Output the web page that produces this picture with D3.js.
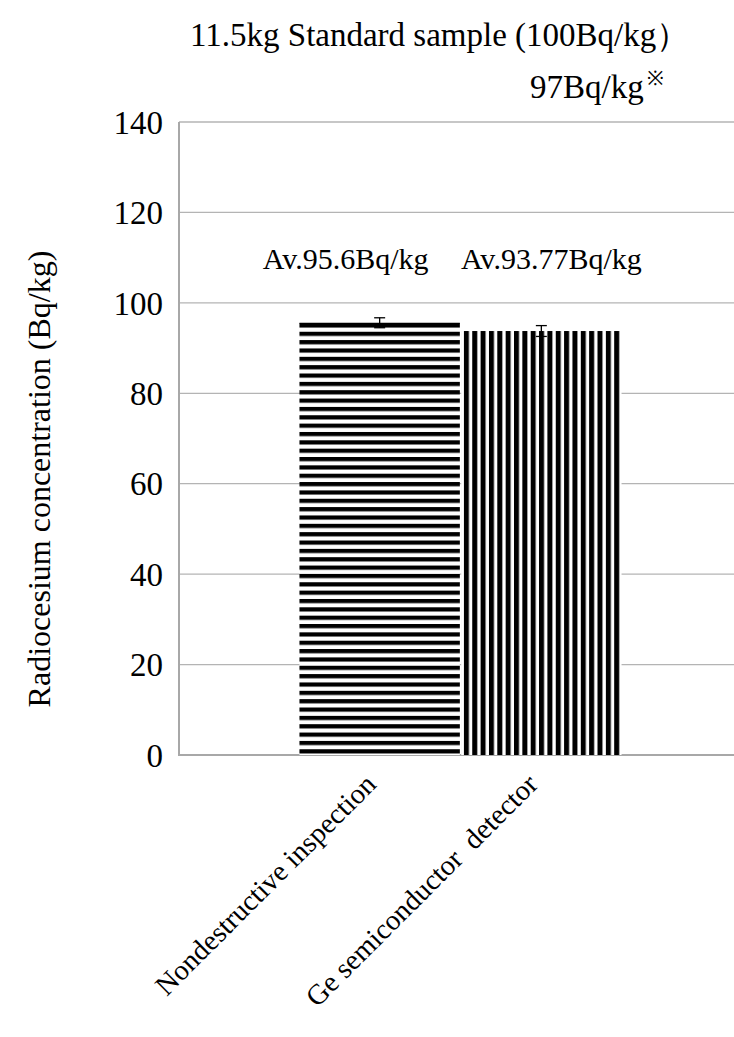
<!DOCTYPE html>
<html>
<head>
<meta charset="utf-8">
<script src="https://cdn.jsdelivr.net/npm/d3@7"></script>
<style>
  html, body { margin: 0; padding: 0; background: #fff; }
  svg text { font-family: "Liberation Serif", "DejaVu Serif", serif; fill: #000; }
</style>
</head>
<body>
<svg id="chart" width="734" height="1037"></svg>
<script>
// data
const categories = ["Nondestructive inspection", "Ge semiconductor  detector"];
const values = [95.6, 93.77];
const errors = [1.1, 1.2];
const avLabels = ["Av.95.6Bq/kg", "Av.93.77Bq/kg"];
const patterns = ["hstripe", "vstripe"];
const yTicks = [0, 20, 40, 60, 80, 100, 120, 140];

const width = 734, height = 1037;
const margin = {top: 122, right: -8, bottom: 282, left: 179};
const plotW = width - margin.left - margin.right;
const plotH = height - margin.top - margin.bottom;

const svg = d3.select("#chart");

// stripe fills
const defs = svg.append("defs");
const hp = defs.append("pattern")
    .attr("id", "hstripe")
    .attr("patternUnits", "userSpaceOnUse")
    .attr("width", 10).attr("height", 8.35)
    .attr("y", 1);
hp.append("rect").attr("width", 10).attr("height", 8.35).attr("fill", "#fff");
hp.append("rect").attr("y", 0).attr("width", 10).attr("height", 4.2).attr("fill", "#000");

const vp = defs.append("pattern")
    .attr("id", "vstripe")
    .attr("patternUnits", "userSpaceOnUse")
    .attr("width", 8.35).attr("height", 10)
    .attr("x", 1);
vp.append("rect").attr("width", 8.35).attr("height", 10).attr("fill", "#fff");
vp.append("rect").attr("x", 0).attr("width", 5).attr("height", 10).attr("fill", "#000");

const g = svg.append("g").attr("transform", `translate(${margin.left},${margin.top})`);

const y = d3.scaleLinear().domain([0, 140]).range([plotH, 0]);
const x = d3.scaleBand()
    .domain(categories)
    .range([0, plotW])
    .paddingInner(0.008)
    .paddingOuter(0.745);

// gridlines
g.append("g")
    .selectAll("line")
    .data(yTicks.filter(d => d > 0))
    .join("line")
    .attr("x1", 0).attr("x2", plotW)
    .attr("y1", d => y(d)).attr("y2", d => y(d))
    .attr("stroke", "#b4b4b4").attr("stroke-width", 1.3);

// y axis
const yAxis = g.append("g")
    .call(d3.axisLeft(y).tickValues(yTicks).tickSize(0).tickPadding(16));
yAxis.select(".domain").remove();
yAxis.selectAll("text")
    .style("font-family", "'Liberation Serif', serif")
    .style("font-size", "33px")
    .attr("dy", "0.34em");

// axis lines
g.append("line")
    .attr("x1", 0).attr("x2", 0).attr("y1", 0).attr("y2", plotH)
    .attr("stroke", "#a8a8a8").attr("stroke-width", 2);
g.append("line")
    .attr("x1", -1).attr("x2", plotW).attr("y1", plotH).attr("y2", plotH)
    .attr("stroke", "#a8a8a8").attr("stroke-width", 2);

// bars
g.selectAll("rect.bar")
    .data(categories)
    .join("rect")
    .attr("class", "bar")
    .attr("x", d => x(d))
    .attr("width", x.bandwidth())
    .attr("y", (d, i) => y(values[i]))
    .attr("height", (d, i) => plotH - y(values[i]))
    .attr("fill", (d, i) => `url(#${patterns[i]})`);

// thin top edge on the horizontal-striped bar
g.append("line")
    .attr("x1", x(categories[0])).attr("x2", x(categories[0]) + x.bandwidth())
    .attr("y1", y(values[0]) + 0.6).attr("y2", y(values[0]) + 0.6)
    .attr("stroke", "#000").attr("stroke-width", 1.2);

// error bars
const eb = g.selectAll("g.err")
    .data(categories)
    .join("g")
    .attr("class", "err")
    .attr("transform", d => `translate(${x(d) + x.bandwidth() / 2},0)`);
eb.append("line")
    .attr("y1", (d, i) => y(values[i] + errors[i]))
    .attr("y2", (d, i) => y(values[i] - errors[i]))
    .attr("stroke", "#000").attr("stroke-width", 1.3);
eb.append("line")
    .attr("x1", -5.5).attr("x2", 5.5)
    .attr("y1", (d, i) => y(values[i] + errors[i]))
    .attr("y2", (d, i) => y(values[i] + errors[i]))
    .attr("stroke", "#000").attr("stroke-width", 1.3);
eb.append("line")
    .attr("x1", -5.5).attr("x2", 5.5)
    .attr("y1", (d, i) => y(values[i] - errors[i]))
    .attr("y2", (d, i) => y(values[i] - errors[i]))
    .attr("stroke", "#000").attr("stroke-width", 1.3);

// average labels
g.selectAll("text.av")
    .data(categories)
    .join("text")
    .attr("class", "av")
    .attr("x", (d, i) => x(d) + x.bandwidth() / 2 + (i === 0 ? -34 : 10))
    .attr("y", y(107.4))
    .attr("text-anchor", "middle")
    .style("font-size", "30px")
    .text((d, i) => avLabels[i]);

// x category labels
g.selectAll("text.xl")
    .data(categories)
    .join("text")
    .attr("class", "xl")
    .attr("transform", d => `translate(${x(d) + x.bandwidth() / 2 - 2},${plotH + 31}) rotate(-45)`)
    .attr("text-anchor", "end")
    .style("font-size", "28.5px")
    .style("white-space", "pre")
    .text(d => d);

// y title
svg.append("text")
    .attr("transform", `translate(50,479) rotate(-90)`)
    .attr("text-anchor", "middle")
    .style("font-size", "32px")
    .text("Radiocesium concentration (Bq/kg)");

// title lines
svg.append("text")
    .attr("x", 190).attr("y", 46)
    .style("font-size", "33px")
    .text("11.5kg Standard sample (100Bq/kg\uFF09");
const sub = svg.append("text")
    .attr("x", 530).attr("y", 98)
    .style("font-size", "33px")
    .text("97Bq/kg");
sub.append("tspan")
    .attr("dx", 3).attr("dy", -13)
    .style("font-size", "20px")
    .text("\u203B");
</script>
</body>
</html>
